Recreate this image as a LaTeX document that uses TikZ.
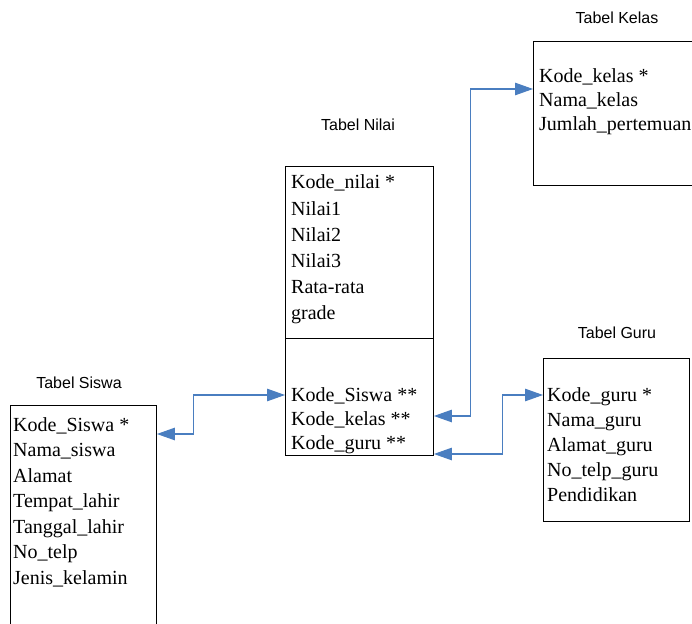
\documentclass[tikz,border=0pt]{standalone}
\usepackage{fontspec}
\setmainfont{Liberation Serif}
\newfontfamily\titlefont{Liberation Sans}
\usetikzlibrary{arrows.meta}
\definecolor{linkblue}{RGB}{74,126,192}
\begin{document}
\begin{tikzpicture}[x=1bp,y=-1bp,
  tbl/.style={draw=black,line width=0.9bp,anchor=north west,inner sep=0pt,fill=none},
  row/.style={anchor=base west,inner sep=0pt,font=\fontsize{20bp}{24bp}\selectfont},
  ttl/.style={inner sep=0pt,font=\titlefont\fontsize{16bp}{19bp}\selectfont},
  link/.style={draw=linkblue,line width=1.1bp,{Triangle[length=18bp,width=12.5bp,fill=linkblue]}-{Triangle[length=18bp,width=12.5bp,fill=linkblue]}}
]
\useasboundingbox[fill=white] (0,0) rectangle (692,624);
\clip (0,0) rectangle (692,624);

% tables
\node[tbl,minimum width=146bp,minimum height=235bp] (siswa) at (10,405) {};
\node[tbl,minimum width=148bp,minimum height=172bp] (nilaiA) at (285,166) {};
\node[tbl,minimum width=148bp,minimum height=117bp] (nilaiB) at (285,338) {};
\node[tbl,minimum width=177bp,minimum height=144bp] (kelas) at (533,41) {};
\node[tbl,minimum width=146bp,minimum height=163bp] (guru) at (543,358) {};

% titles
\node[ttl] (tsiswa) at (79,383) {Tabel Siswa};
\node[ttl] (tnilai) at (358,125) {Tabel Nilai};
\node[ttl] (tkelas) at (617,18) {Tabel Kelas};
\node[ttl] (tguru) at (617,333) {Tabel Guru};

% rows
\foreach \t [count=\i from 0] in {Kode\_Siswa *,Nama\_siswa,Alamat,Tempat\_lahir,Tanggal\_lahir,No\_telp,Jenis\_kelamin}
  \node[row] (rs\i) at (13,431+\i*25.5) {\t};
\foreach \t [count=\i from 0] in {Kode\_nilai *,Nilai1,Nilai2,Nilai3,Rata-rata,grade}
  \node[row] (rn\i) at (291,189+\i*26) {\t};
\foreach \t [count=\i from 0] in {Kode\_Siswa **,Kode\_kelas **,Kode\_guru **}
  \node[row] (rf\i) at (291,401+\i*24) {\t};
\foreach \t [count=\i from 0] in {Kode\_kelas *,Nama\_kelas,Jumlah\_pertemuan}
  \node[row] (rk\i) at (539,83+\i*24) {\t};
\foreach \t [count=\i from 0] in {Kode\_guru *,Nama\_guru,Alamat\_guru,No\_telp\_guru,Pendidikan}
  \node[row] (rg\i) at (547,401+\i*25) {\t};

% connectors
\draw[link] ([yshift=-29bp]siswa.north east) -- ++(37,0) |- ([yshift=-57bp]nilaiB.north west);
\draw[link] ([yshift=-78bp]nilaiB.north east) -- ++(37,0) |- ([yshift=-48bp]kelas.north west);
\draw[link] ([yshift=-116bp]nilaiB.north east) -- ++(69,0) |- ([yshift=-37bp]guru.north west);
\end{tikzpicture}
\end{document}
